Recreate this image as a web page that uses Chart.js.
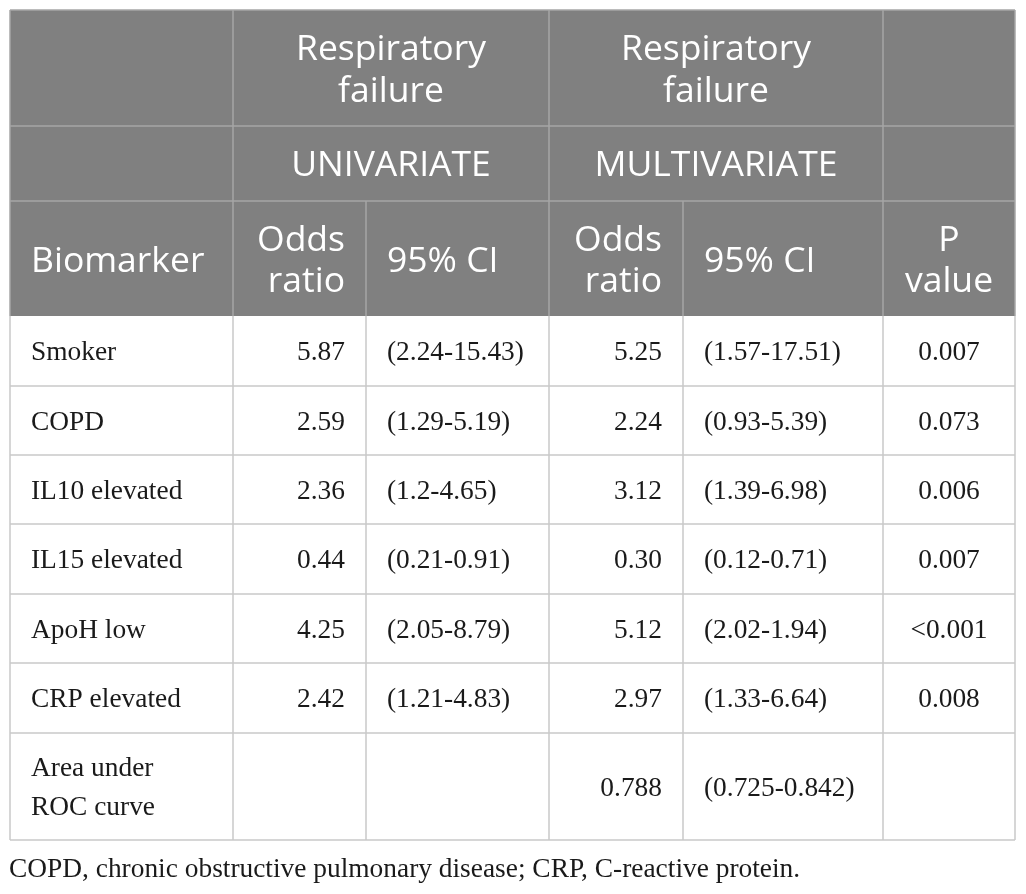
<!DOCTYPE html>
<html>
<head>
<meta charset="utf-8">
<script src="https://cdn.jsdelivr.net/npm/chart.js@4.4.1/dist/chart.umd.min.js"></script>
<style>
  html, body { margin: 0; padding: 0; background: #ffffff; }
  #wrap { position: relative; width: 1026px; height: 894px; }
</style>
</head>
<body>
<div id="wrap"><canvas id="c"></canvas></div>
<script>
// ---- Table content ----
const groupTitles = ["Respiratory failure", "Respiratory failure"];
const groupSubtitles = ["UNIVARIATE", "MULTIVARIATE"];
const columnHeaders = ["Biomarker", "Odds ratio", "95% CI", "Odds ratio", "95% CI", "P value"];
const biomarkers = ["Smoker", "COPD", "IL10 elevated", "IL15 elevated", "ApoH low", "CRP elevated", "Area under ROC curve"];
const uniOddsRatio = ["5.87", "2.59", "2.36", "0.44", "4.25", "2.42", ""];
const uniCI = ["(2.24-15.43)", "(1.29-5.19)", "(1.2-4.65)", "(0.21-0.91)", "(2.05-8.79)", "(1.21-4.83)", ""];
const multiOddsRatio = ["5.25", "2.24", "3.12", "0.30", "5.12", "2.97", "0.788"];
const multiCI = ["(1.57-17.51)", "(0.93-5.39)", "(1.39-6.98)", "(0.12-0.71)", "(2.02-1.94)", "(1.33-6.64)", "(0.725-0.842)"];
const pValues = ["0.007", "0.073", "0.006", "0.007", "<0.001", "0.008", ""];
const footnote = "COPD, chronic obstructive pulmonary disease; CRP, C-reactive protein.";

// ---- Layout (table units, mapped through the chart scales) ----
const colEdges = [0, 223, 356, 539, 673, 873, 1005];
const headerRowEdges = [0, 116, 191, 306];
const bodyRowEdges = [306, 376, 445, 514, 584, 653, 723, 830];
const colAlign = ["left", "right", "left", "right", "left", "center"];
const headerFont = "35.5px 'Open Sans'";
const bodyFont = "27.4px 'Liberation Serif'";

const tablePlugin = {
  id: 'tablePlugin',
  afterDraw(chart) {
    const ctx = chart.ctx;
    const xs = chart.scales.x, ys = chart.scales.y;
    const X = v => xs.getPixelForValue(v);
    const Y = v => ys.getPixelForValue(v);
    const padL = 21, padR = 21;

    function drawText(lines, x0, x1, y0, y1, align, font, color, lh, dy) {
      ctx.save();
      ctx.font = font;
      ctx.fillStyle = color;
      ctx.textBaseline = 'middle';
      ctx.textAlign = align;
      const px0 = X(x0), px1 = X(x1);
      let tx = align === 'left' ? px0 + padL : align === 'right' ? px1 - padR : (px0 + px1) / 2;
      const cy = (Y(y0) + Y(y1)) / 2 + dy;
      const n = lines.length;
      lines.forEach((t, i) => {
        ctx.fillText(t, tx, cy + (i - (n - 1) / 2) * lh);
      });
      ctx.restore();
    }
    function hline(v, a, b, color) {
      ctx.beginPath(); ctx.strokeStyle = color; ctx.lineWidth = 1.5;
      ctx.moveTo(X(a), Y(v)); ctx.lineTo(X(b), Y(v)); ctx.stroke();
    }
    function vline(v, a, b, color) {
      ctx.beginPath(); ctx.strokeStyle = color; ctx.lineWidth = 1.5;
      ctx.moveTo(X(v), Y(a)); ctx.lineTo(X(v), Y(b)); ctx.stroke();
    }

    const W0 = colEdges[0], W1 = colEdges[colEdges.length - 1];
    const H0 = headerRowEdges[0], H1 = headerRowEdges[3];
    // header background
    ctx.save();
    ctx.fillStyle = '#808080';
    ctx.fillRect(X(W0), Y(H0), X(W1) - X(W0), Y(H1) - Y(H0));
    ctx.restore();

    const hdrLine = '#a6a6a6', bodyLine = '#c8c8c8';
    // header lines
    hline(headerRowEdges[1], W0, W1, hdrLine);
    hline(headerRowEdges[2], W0, W1, hdrLine);
    [1, 3, 5].forEach(ci => vline(colEdges[ci], H0, H1, hdrLine));
    [2, 4].forEach(ci => vline(colEdges[ci], headerRowEdges[2], H1, hdrLine));

    // header texts
    const wrapTitle = t => { const i = t.indexOf(' '); return [t.slice(0, i), t.slice(i + 1)]; };
    groupTitles.forEach((t, g) => {
      drawText(wrapTitle(t), colEdges[1 + 2 * g], colEdges[3 + 2 * g], headerRowEdges[0], headerRowEdges[1], 'center', headerFont, '#ffffff', 42, 3);
    });
    groupSubtitles.forEach((t, g) => {
      drawText([t], colEdges[1 + 2 * g], colEdges[3 + 2 * g], headerRowEdges[1], headerRowEdges[2], 'center', headerFont, '#ffffff', 42, 2);
    });
    columnHeaders.forEach((t, c) => {
      const lines = t.indexOf(' ') > 0 && t !== "95% CI" ? wrapTitle(t) : [t];
      drawText(lines, colEdges[c], colEdges[c + 1], headerRowEdges[2], headerRowEdges[3], colAlign[c], headerFont, '#ffffff', 41, 3);
    });

    // body lines
    const B1 = bodyRowEdges[bodyRowEdges.length - 1];
    bodyRowEdges.slice(1).forEach(r => hline(r, W0, W1, bodyLine));
    colEdges.forEach(c => vline(c, H1, B1, bodyLine));
    // outer header border
    vline(W0, H0, H1, hdrLine); vline(W1, H0, H1, hdrLine); hline(H0, W0, W1, hdrLine);

    // body texts
    const cols = [biomarkers, uniOddsRatio, uniCI, multiOddsRatio, multiCI, pValues];
    biomarkers.forEach((_, r) => {
      cols.forEach((arr, c) => {
        let t = arr[r];
        if (!t) return;
        let lines = [t];
        if (c === 0 && t === "Area under ROC curve") lines = ["Area under", "ROC curve"];
        drawText(lines, colEdges[c], colEdges[c + 1], bodyRowEdges[r], bodyRowEdges[r + 1], colAlign[c], bodyFont, '#1a1a1a', 39, 2);
      });
    });

    // footnote
    ctx.save();
    ctx.font = bodyFont;
    ctx.fillStyle = '#1a1a1a';
    ctx.textBaseline = 'middle';
    ctx.textAlign = 'left';
    ctx.fillText(footnote, X(W0) - 1, Y(B1) + 30);
    ctx.restore();
  }
};

new Chart(document.getElementById('c'), {
  type: 'scatter',
  data: { datasets: [{ data: [], pointRadius: 0 }] },
  options: {
    responsive: true,
    maintainAspectRatio: false,
    animation: false,
    layout: { padding: { left: 10, right: 11, top: 10, bottom: 54 } },
    plugins: { legend: { display: false }, tooltip: { enabled: false } },
    scales: {
      x: { type: 'linear', min: 0, max: 1005, display: false },
      y: { type: 'linear', min: 0, max: 830, reverse: true, display: false }
    }
  },
  plugins: [tablePlugin]
});
</script>
</body>
</html>
